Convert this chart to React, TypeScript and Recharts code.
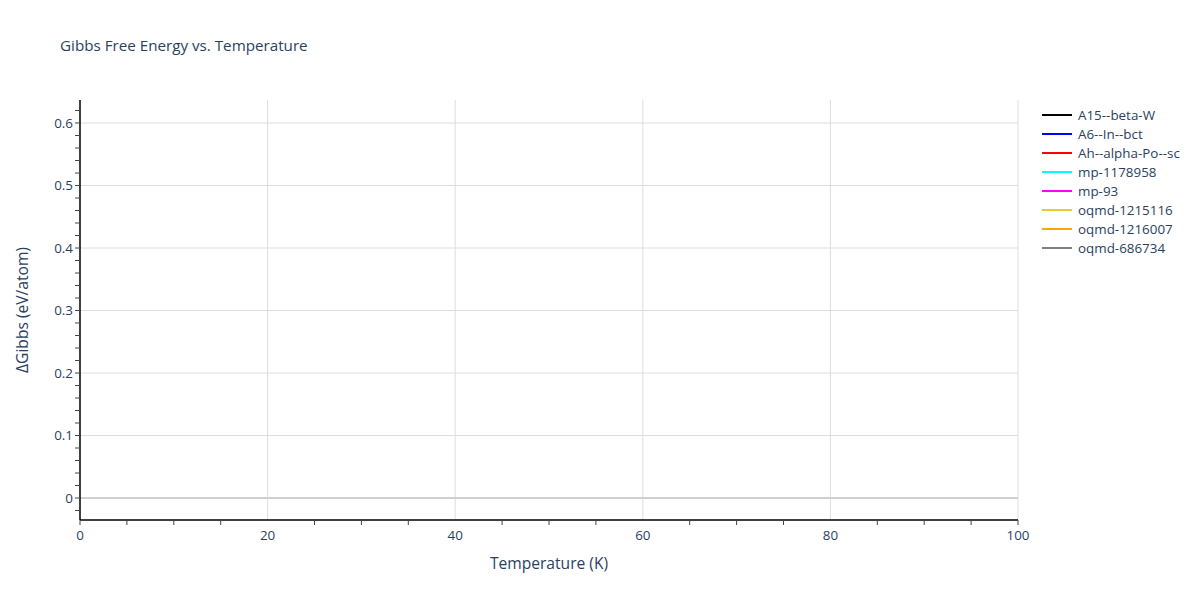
import { LineChart, Line, XAxis, YAxis, ReferenceLine } from "recharts";

// The reference shows the axes and legend only: no trace draws a visible line.
const temperatures = [0, 100];
const seriesNames = [
	"A15--beta-W",
	"A6--In--bct",
	"Ah--alpha-Po--sc",
	"mp-1178958",
	"mp-93",
	"oqmd-1215116",
	"oqmd-1216007",
	"oqmd-686734",
];
const seriesColors = ["#000000", "#0000ff", "#ff0000", "#00ffff", "#ff00ff", "#f0c43c", "#ffa500", "#808080"];
const seriesValues: Array<Array<number | null>> = [
	[null, null],
	[null, null],
	[null, null],
	[null, null],
	[null, null],
	[null, null],
	[null, null],
	[null, null],
];

const xTicks = [0, 20, 40, 60, 80, 100];
const xAllTicks = [0, 5, 10, 15, 20, 25, 30, 35, 40, 45, 50, 55, 60, 65, 70, 75, 80, 85, 90, 95, 100];
const yTicks = [0, 0.1, 0.2, 0.3, 0.4, 0.5, 0.6];
const yAllTicks = [-0.02, 0, 0.02, 0.04, 0.06, 0.08, 0.1, 0.12, 0.14, 0.16, 0.18, 0.2, 0.22, 0.24, 0.26, 0.28, 0.3, 0.32, 0.34, 0.36, 0.38, 0.4, 0.42, 0.44, 0.46, 0.48, 0.5, 0.52, 0.54, 0.56, 0.58, 0.6, 0.62];
const yDomain = [-0.0352, 0.6368];

const data = temperatures.map((t, i) => {
	const row: { [key: string]: number | null } = { t };
	seriesNames.forEach((name, s) => {
		row[name] = seriesValues[s][i];
	});
	return row;
});

const font = '"Open Sans", verdana, arial, sans-serif';
const textColor = "#2a3f5f";
const gridColor = "#dedede";
const tickFont = 13.4;
const titleFont = 15.6;

const isMajor = (v: number, list: number[]) => list.some((m) => Math.abs(m - v) < 1e-9);

function XTick(props: any) {
	const { x, y, payload } = props;
	const v = payload.value;
	const major = isMajor(v, xTicks);
	const showLine = !major || v === 0 || v === 100;
	return (
		<g>
			{showLine && <line x1={x} x2={x} y1={y} y2={y + 5} stroke="#444" strokeWidth={1} />}
			{major && (
				<text x={x} y={y + 20} textAnchor="middle" fill={textColor} stroke="none" fontSize={tickFont} fontFamily={font}>
					{v}
				</text>
			)}
		</g>
	);
}

function YTick(props: any) {
	const { x, y, payload } = props;
	const v = payload.value;
	return (
		<g>
			<line x1={x - 5} x2={x} y1={y} y2={y} stroke="#444" strokeWidth={1} />
			{isMajor(v, yTicks) && (
				<text x={x - 7} y={y + 4.5} textAnchor="end" fill={textColor} stroke="none" fontSize={tickFont} fontFamily={font}>
					{v}
				</text>
			)}
		</g>
	);
}

function LegendBox() {
	return (
		<div style={{ position: "absolute", left: 1042, top: 105, fontFamily: font, fontSize: tickFont, color: textColor }}>
			{seriesNames.map((name, i) => (
				<div key={name} style={{ display: "flex", alignItems: "center", height: 19 }}>
					<div style={{ width: 30, height: 2, background: seriesColors[i], marginRight: 6 }} />
					<span>{name}</span>
				</div>
			))}
		</div>
	);
}

export default function App() {
	return (
		<div style={{ position: "absolute", left: 0, top: 0, width: 1200, height: 600, background: "#fff", fontFamily: font }}>
			<div style={{ position: "absolute", left: 60, top: 35, fontSize: 15.2, color: textColor }}>
				Gibbs Free Energy vs. Temperature
			</div>
			<LineChart width={1200} height={600} data={data} margin={{ top: 100, right: 182, bottom: 0, left: 0 }}>
				{xTicks.slice(1).map((v) => (
					<ReferenceLine key={`gx-${v}`} x={v} stroke={gridColor} strokeWidth={1} />
				))}
				{yTicks.slice(1).map((v) => (
					<ReferenceLine key={`gy-${v}`} y={v} stroke={gridColor} strokeWidth={1} />
				))}
				<ReferenceLine y={0} stroke="#d0d0d0" strokeWidth={2} />
				<XAxis
					dataKey="t"
					type="number"
					domain={[0, 100]}
					allowDataOverflow
					ticks={xAllTicks}
					interval={0}
					height={80}
					axisLine={{ stroke: "#000", strokeWidth: 1.5 }}
					tickLine={false}
					tickSize={0}
					tickMargin={0}
					tick={<XTick />}
					label={{ value: "Temperature (K)", position: "insideBottom", offset: 31, fill: textColor, fontSize: titleFont, fontFamily: font }}
				/>
				<YAxis
					type="number"
					domain={yDomain}
					allowDataOverflow
					ticks={yAllTicks}
					interval={0}
					width={80}
					axisLine={{ stroke: "#000", strokeWidth: 1.5 }}
					tickLine={false}
					tickSize={0}
					tickMargin={0}
					tick={<YTick />}
					label={{ value: "ΔGibbs (eV/atom)", angle: -90, position: "insideLeft", offset: 22, fill: textColor, fontSize: titleFont, fontFamily: font, style: { textAnchor: "middle" } }}
				/>
				{seriesNames.map((name, i) => (
					<Line
						key={name}
						dataKey={name}
						stroke={seriesColors[i]}
						strokeWidth={2}
						dot={false}
						connectNulls={false}
						isAnimationActive={false}
					/>
				))}
			</LineChart>
			<LegendBox />
		</div>
	);
}
